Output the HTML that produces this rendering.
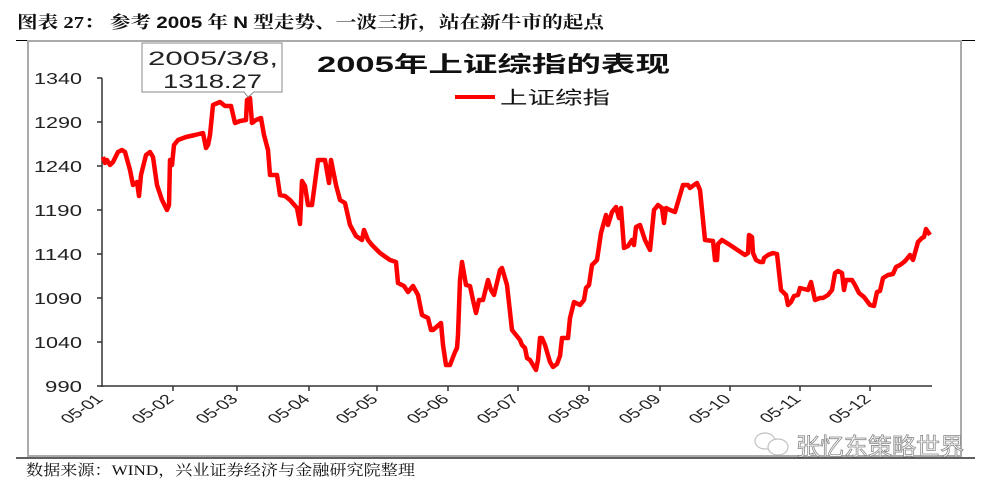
<!DOCTYPE html>
<html><head><meta charset="utf-8"><style>
body{margin:0;background:#fff;width:1002px;height:492px;overflow:hidden;position:relative}
</style></head><body>
<svg width="1002" height="492" xmlns="http://www.w3.org/2000/svg" style="position:absolute;left:0;top:0">
<text x="17" y="28" font-family="Liberation Serif, Noto Serif CJK SC, serif" font-weight="bold" font-size="17" fill="#111" textLength="587" lengthAdjust="spacingAndGlyphs">图表 27：  参考 <tspan font-family="Liberation Sans, sans-serif">2005</tspan> 年 <tspan font-family="Liberation Sans, sans-serif">N</tspan> 型走势、一波三折，站在新牛市的起点</text>
<line x1="16" y1="40.5" x2="28" y2="40.5" stroke="#000" stroke-width="1"/>
<line x1="961" y1="40.5" x2="975" y2="40.5" stroke="#000" stroke-width="1"/>
<rect x="28" y="41" width="933" height="415" fill="none" stroke="#aaa" stroke-width="2"/>
<line x1="16" y1="458" x2="975" y2="458" stroke="#000" stroke-width="1.2"/>
<g font-family="Liberation Sans, sans-serif" font-size="16" fill="#222" text-anchor="end">
<text x="82" y="84" textLength="48" lengthAdjust="spacingAndGlyphs">1340</text><text x="82" y="128" textLength="48" lengthAdjust="spacingAndGlyphs">1290</text><text x="82" y="172" textLength="48" lengthAdjust="spacingAndGlyphs">1240</text><text x="82" y="216" textLength="48" lengthAdjust="spacingAndGlyphs">1190</text><text x="82" y="260" textLength="48" lengthAdjust="spacingAndGlyphs">1140</text><text x="82" y="304" textLength="48" lengthAdjust="spacingAndGlyphs">1090</text><text x="82" y="348" textLength="48" lengthAdjust="spacingAndGlyphs">1040</text><text x="82" y="392" textLength="37" lengthAdjust="spacingAndGlyphs">990</text>
</g>
<g stroke="#333" stroke-width="1.5">
<line x1="102" y1="78" x2="102" y2="387"/><line x1="102" y1="386" x2="932" y2="386"/>
<line x1="97" y1="78" x2="102" y2="78"/><line x1="97" y1="122" x2="102" y2="122"/><line x1="97" y1="166" x2="102" y2="166"/><line x1="97" y1="210" x2="102" y2="210"/><line x1="97" y1="254" x2="102" y2="254"/><line x1="97" y1="298" x2="102" y2="298"/><line x1="97" y1="342" x2="102" y2="342"/><line x1="97" y1="386" x2="102" y2="386"/>
<line x1="173" y1="386" x2="173" y2="391"/><line x1="237" y1="386" x2="237" y2="391"/><line x1="309" y1="386" x2="309" y2="391"/><line x1="377" y1="386" x2="377" y2="391"/><line x1="448" y1="386" x2="448" y2="391"/><line x1="518" y1="386" x2="518" y2="391"/><line x1="589" y1="386" x2="589" y2="391"/><line x1="660" y1="386" x2="660" y2="391"/><line x1="730" y1="386" x2="730" y2="391"/><line x1="800" y1="386" x2="800" y2="391"/><line x1="870" y1="386" x2="870" y2="391"/>
</g>
<g font-family="Liberation Sans, sans-serif" font-size="13.5" fill="#222" text-anchor="end">
<text transform="translate(104,400) scale(1.45,1) rotate(-45)">05-01</text>
<text transform="translate(175,400) scale(1.45,1) rotate(-45)">05-02</text>
<text transform="translate(239,400) scale(1.45,1) rotate(-45)">05-03</text>
<text transform="translate(311,400) scale(1.45,1) rotate(-45)">05-04</text>
<text transform="translate(379,400) scale(1.45,1) rotate(-45)">05-05</text>
<text transform="translate(450,400) scale(1.45,1) rotate(-45)">05-06</text>
<text transform="translate(520,400) scale(1.45,1) rotate(-45)">05-07</text>
<text transform="translate(591,400) scale(1.45,1) rotate(-45)">05-08</text>
<text transform="translate(662,400) scale(1.45,1) rotate(-45)">05-09</text>
<text transform="translate(732,400) scale(1.45,1) rotate(-45)">05-10</text>
<text transform="translate(802,400) scale(1.45,1) rotate(-45)">05-11</text>
<text transform="translate(872,400) scale(1.45,1) rotate(-45)">05-12</text>
</g>
<polyline fill="none" stroke="#f00" stroke-width="4.5" stroke-linejoin="round" points="103,157 105,163 107,160 110,165 113,162 118,152 122,150 125,152 130,170 133,185 137,182 139,196 141,175 146,155 150,152 153,157 157,185 162,200 167,210 169,205 170,160 172,165 174,145 178,140 186,137 195,135 203,133 206,148 208,145 210,135 213,105 220,102 225,106 231,106 235,123 240,121 246,120 247,100 250,98 252,123 256,120 261,118 264,135 268,150 270,175 277,175 280,195 285,196 290,200 297,208 300,224 302,181 305,186 308,205 312,205 318,160 325,160 329,183 331,160 336,185 340,200 345,203 350,225 356,236 362,240 364,230 368,240 372,245 380,253 390,260 396,262 398,283 404,286 408,292 413,286 418,295 422,315 428,318 431,330 433,330 441,323 443,345 446,365 450,365 455,352 457,348 458,335 460,280 462,262 466,285 470,286 473,300 476,313 479,300 483,300 488,280 491,290 494,295 500,270 502,268 507,285 512,330 520,340 522,345 525,348 527,358 530,360 533,365 536,370 538,360 540,338 542,338 545,345 550,362 553,367 557,364 560,356 562,338 568,338 570,318 574,302 580,305 584,300 586,288 589,285 592,265 597,260 601,233 606,215 608,225 612,212 616,207 619,218 621,208 624,248 628,246 632,240 634,245 636,227 640,225 645,240 650,250 654,210 658,205 662,208 664,223 666,208 670,210 675,212 683,185 688,185 690,188 694,185 697,183 700,190 705,240 713,241 715,260 717,260 718,244 722,240 730,245 745,255 748,253 749,235 752,237 753,253 756,260 760,262 763,262 764,258 768,255 773,253 777,254 781,290 786,295 788,305 791,302 794,296 798,295 800,288 808,290 811,282 815,300 820,298 823,298 828,295 832,290 835,273 838,271 842,273 844,290 846,280 852,280 855,285 859,293 864,297 870,305 874,306 877,292 880,291 883,278 888,275 893,274 896,267 900,265 904,262 906,260 910,255 913,260 918,242 922,238 924,237 926,229 928,232 930,235"/>
<path d="M142,43 H282 V92 H254 L248,97 L244,92 H142 Z" fill="#fff" stroke="#888" stroke-width="1"/>
<g font-family="Liberation Sans, sans-serif" font-size="19" fill="#222">
<text x="148" y="65" textLength="130" lengthAdjust="spacingAndGlyphs">2005/3/8,</text><text x="163" y="88" textLength="99" lengthAdjust="spacingAndGlyphs">1318.27</text>
</g>
<text x="317" y="72" font-family="Liberation Sans, Noto Sans CJK SC, sans-serif" font-weight="bold" font-size="22" fill="#111" textLength="353" lengthAdjust="spacingAndGlyphs">2005年上证综指的表现</text>
<line x1="455" y1="97" x2="495" y2="97" stroke="#f00" stroke-width="4"/>
<text x="500" y="104" font-family="Liberation Sans, Noto Sans CJK SC, sans-serif" font-size="18" fill="#111" textLength="110" lengthAdjust="spacingAndGlyphs">上证综指</text>
<text x="26" y="475" font-family="Liberation Serif, Noto Serif CJK SC, serif" font-size="15" fill="#111" textLength="389" lengthAdjust="spacingAndGlyphs">数据来源：WIND，兴业证券经济与金融研究院整理</text>
<g opacity="0.6" stroke="#999" fill="#fff" stroke-width="1.2">
<ellipse cx="765" cy="441" rx="10" ry="8"/><ellipse cx="778" cy="447" rx="10" ry="8"/>
</g>
<text x="796" y="455" font-family="Liberation Sans, Noto Sans CJK SC, sans-serif" font-size="24" fill="#fff" stroke="#888" stroke-width="0.8">张忆东策略世界</text>
</svg>
</body></html>
